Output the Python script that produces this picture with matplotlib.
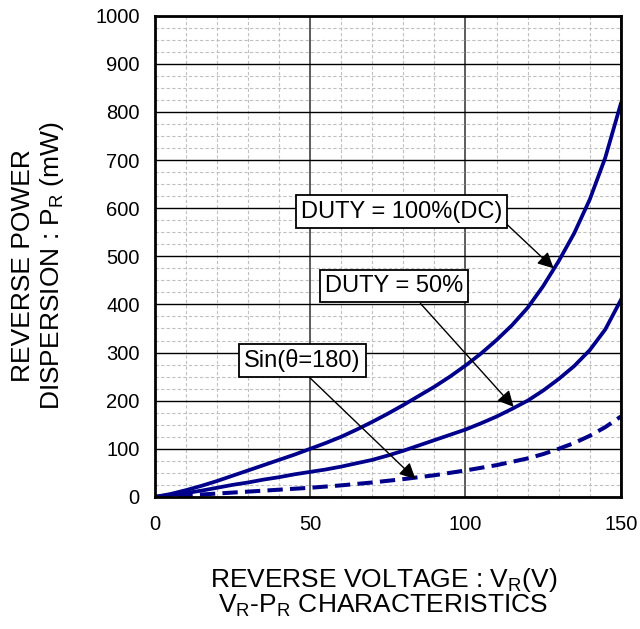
import numpy as np
import matplotlib
matplotlib.use('Agg')
import matplotlib.pyplot as plt
from matplotlib.ticker import MultipleLocator

plt.rcParams['font.family'] = ['Liberation Sans', 'DejaVu Sans']
plt.rcParams['mathtext.fontset'] = 'custom'
plt.rcParams['mathtext.rm'] = 'Liberation Sans'

# datos
v_dc = [0, 5, 10, 15, 20, 25, 30, 35, 40, 45, 50, 55, 60, 65, 70, 75, 80, 85, 90, 95,
        100, 105, 110, 115, 120, 125, 130, 135, 140, 145, 150]
p_dc = [0, 6, 14, 23, 33, 44, 55, 66, 77, 88, 100, 112, 125, 140, 156, 173, 191, 210, 229, 250,
        273, 298, 326, 357, 393, 438, 490, 548, 618, 705, 817]

v_50 = [0, 5, 10, 15, 20, 25, 30, 35, 40, 45, 50, 55, 60, 65, 70, 75, 80, 85, 90, 95,
        100, 105, 110, 115, 120, 125, 130, 135, 140, 145, 150]
p_50 = [0, 4, 8, 13, 19, 25, 30, 36, 41, 47, 52, 57, 63, 70, 77, 86, 96, 107, 118, 129,
        140, 153, 167, 183, 200, 221, 245, 272, 305, 348, 409]

v_sin = [0, 10, 20, 30, 40, 50, 60, 70, 80, 90, 100, 110, 120, 125, 130, 135, 140, 145, 150]
p_sin = [0, 3, 7, 11, 15, 19, 24, 30, 37, 45, 55, 66, 80, 89, 100, 112, 127, 145, 167]

navy = '#00008B'

fig = plt.figure(figsize=(6.4, 6.29), dpi=100)
ax = fig.add_subplot(111)
fig.subplots_adjust(left=0.242, right=0.970, top=0.975, bottom=0.210)

ax.plot(v_dc, p_dc, color=navy, lw=2.7, zorder=3)
ax.plot(v_50, p_50, color=navy, lw=2.7, zorder=3)
ax.plot(v_sin, p_sin, color=navy, lw=2.9, dashes=(3.8, 1.8), zorder=3)

ax.set_xlim(0, 150)
ax.set_ylim(0, 1000)
ax.xaxis.set_major_locator(MultipleLocator(50))
ax.xaxis.set_minor_locator(MultipleLocator(10))
ax.yaxis.set_major_locator(MultipleLocator(100))
ax.yaxis.set_minor_locator(MultipleLocator(25))

ax.grid(which='minor', color='#c0c0c0', ls=(0, (3, 2)), lw=0.8, zorder=0)
ax.grid(which='major', axis='x', color='#404040', lw=1.2, zorder=1)
ax.grid(which='major', axis='y', color='black', lw=1.0, zorder=1)
ax.tick_params(which='both', length=0, labelsize=14.5)
ax.tick_params(axis='x', pad=13)
ax.tick_params(axis='y', pad=11)
for s in ax.spines.values():
    s.set_linewidth(2.0)
    s.set_zorder(4)

box = dict(boxstyle='square,pad=0.22', fc='white', ec='black', lw=1.3)
ax.text(79.4, 593, 'DUTY = 100%(DC)', fontsize=17, ha='center', va='center', bbox=box, zorder=5)
ax.text(77.0, 438, 'DUTY = 50%', fontsize=17, ha='center', va='center', bbox=box, zorder=5)
ax.text(47.4, 284, 'Sin(\u03b8=180)', fontsize=17, ha='center', va='center', bbox=box, zorder=5)

arr = dict(arrowstyle='-|>', color='black', lw=1.0, mutation_scale=24, shrinkA=0, shrinkB=0)
ax.annotate('', xy=(128.4, 475), xytext=(112.9, 569), arrowprops=arr, zorder=4)
ax.annotate('', xy=(115.5, 187), xytext=(85.5, 402), arrowprops=arr, zorder=4)
ax.annotate('', xy=(83.9, 37), xytext=(50, 247), arrowprops=arr, zorder=4)

fig.text(0.599, 0.078, 'REVERSE VOLTAGE : V$_\\mathregular{R}$(V)', fontsize=19, ha='center', va='center')
fig.text(0.599, 0.037, 'V$_\\mathregular{R}$-P$_\\mathregular{R}$ CHARACTERISTICS', fontsize=19, ha='center', va='center')
fig.text(0.036, 0.578, 'REVERSE POWER', fontsize=19, rotation=90, ha='center', va='center')
fig.text(0.081, 0.578, 'DISPERSION : P$_\\mathregular{R}$ (mW)', fontsize=19, rotation=90, ha='center', va='center')

plt.savefig('out.png', dpi=100)
